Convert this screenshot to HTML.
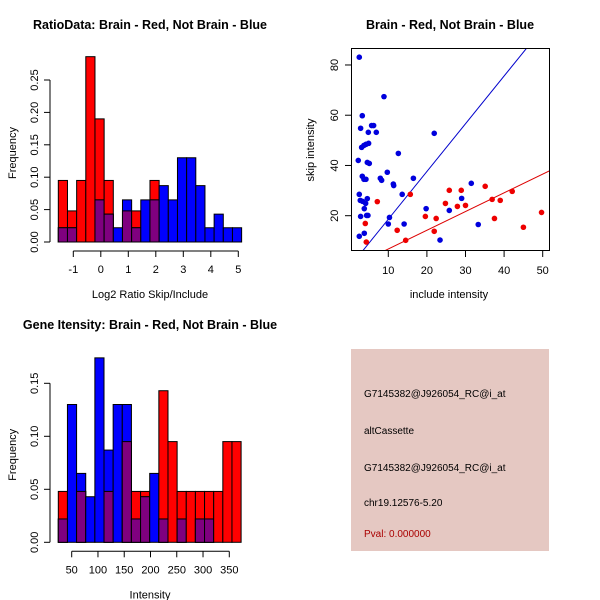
<!DOCTYPE html>
<html><head><meta charset="utf-8"><style>
body{margin:0;background:#fff;}
svg{display:block;font-family:"Liberation Sans",sans-serif;}
</style></head><body>
<svg id="c" width="600" height="600" xmlns="http://www.w3.org/2000/svg"></svg>
<script>
// ----- Data: ratio histogram -----
const ratioRed = [0.095,0.048,0.095,0.286,0.19,0.095,0,0.048,0.048,0,0.095,0,0,0,0,0,0,0,0,0];
const ratioBlue = [0.022,0.022,0,0,0.065,0.043,0.022,0.065,0.022,0.065,0.065,0.087,0.065,0.13,0.13,0.087,0.022,0.043,0.022,0.022];
const ratioStart = -1.545, ratioBinW = 0.3333;
const ratioXTicks = [-1,0,1,2,3,4,5];
const ratioYTicks = [0,0.05,0.10,0.15,0.20,0.25];
const ratioYLabels = ["0.00","0.05","0.10","0.15","0.20","0.25"];
// ----- Data: gene intensity histogram -----
const geneRed = [0.048,0,0.048,0,0,0.048,0,0.095,0.048,0.048,0,0.143,0.095,0.048,0.048,0.048,0.048,0.048,0.095,0.095];
const geneBlue = [0.022,0.13,0.065,0.043,0.174,0.087,0.13,0.13,0.022,0.043,0.065,0.022,0,0.022,0,0.022,0.022,0,0,0];
const geneStart = 24.5, geneBinW = 17.4;
const geneXTicks = [50,100,150,200,250,300,350];
const geneYTicks = [0,0.05,0.10,0.15];
const geneYLabels = ["0.00","0.05","0.10","0.15"];
// ----- Data: scatter -----
const blueX = [2.48,8.88,5.68,6.2,2.83,6.89,4.82,3.26,3.09,3.69,4.21,4.9,2.22,4.56,5.08,12.6,21.9,3.26,3.69,4.21,7.93,8.27,9.74,11.3,11.4,16.5,13.6,2.48,2.74,3.35,4.56,4.13,3.78,2.83,4.38,4.73,10.3,10.0,19.8,23.4,25.8,29.0,31.5,33.3,14.1,2.48,3.78];
const blueY = [83.1,67.4,55.9,55.9,54.8,53.2,53.2,59.8,47.2,48.0,48.4,48.8,42.0,41.2,40.8,44.8,52.8,35.7,34.5,34.5,34.9,34.1,37.3,32.6,32.0,34.9,28.5,28.5,26.1,25.7,26.8,24.9,22.8,19.7,20.1,20.1,19.3,16.7,22.8,10.3,22.1,26.9,32.9,16.5,16.7,11.8,13.0];
const redX = [7.15,15.7,4.04,4.3,12.3,14.5,19.6,22.4,21.9,24.8,25.8,27.9,28.9,30.0,35.1,36.9,39.0,42.1,37.5,45.0,49.7];
const redY = [25.6,28.5,16.9,9.5,14.2,10.2,19.7,18.9,13.8,24.9,30.1,23.7,30.1,24.1,31.7,26.5,26.1,29.7,18.9,15.4,21.3];
const blueLine = [1.9,-0.4];  // slope, intercept
const redLine = [0.745,-0.7];
const scXTicks = [10,20,30,40,50];
const scYTicks = [20,40,60,80];

const svg = document.getElementById('c');
const NS = 'http://www.w3.org/2000/svg';
function mk(tag, attrs, parent){const e=document.createElementNS(NS,tag);for(const k in attrs)e.setAttribute(k,attrs[k]);(parent||svg).appendChild(e);return e;}
function txt(s, x, y, attrs, parent){const e=mk('text',Object.assign({x:x,y:y},attrs),parent);e.textContent=s;return e;}

function hist(name, red, blue, start, bw, xTicks, yTicks, yLabels, sx, sy, title, titleX, titleY, xlab){
  const g = mk('g',{});
  
  
  for(let i=0;i<red.length;i++){
    const x0=sx(start+i*bw), x1=sx(start+(i+1)*bw);
    const r=red[i], b=blue[i], m=Math.min(r,b);
    if(r>0){const e=mk('rect',{x:x0,y:sy(r),width:x1-x0,height:sy(0)-sy(r),fill:'#ff0000',stroke:'#000','stroke-width':1},g);
      
      }
    if(b>0){const e=mk('rect',{x:x0,y:sy(b),width:x1-x0,height:sy(0)-sy(b),fill:'#0000ff',stroke:'#000','stroke-width':1},g);
      
      }
    if(m>0){const e=mk('rect',{x:x0,y:sy(m),width:x1-x0,height:sy(0)-sy(m),fill:'#7f007f',stroke:'#000','stroke-width':1},g);
      
      }
  }
  const y0=sy(yTicks[0]), y1=sy(yTicks[yTicks.length-1]);
  mk('line',{x1:50,y1:y0,x2:50,y2:y1,stroke:'#000'},g);
  yTicks.forEach((t,i)=>{const y=sy(t);mk('line',{x1:44,y1:y,x2:50,y2:y,stroke:'#000'},g);
    const e=txt(yLabels[i],38,y,{'font-size':11,'text-anchor':'middle',transform:`rotate(-90 38 ${y})`},g);
    
    });
  const ay=sy(0)+9;
  mk('line',{x1:sx(xTicks[0]),y1:ay,x2:sx(xTicks[xTicks.length-1]),y2:ay,stroke:'#000'},g);
  xTicks.forEach(t=>{const x=sx(t);mk('line',{x1:x,y1:ay,x2:x,y2:ay+6,stroke:'#000'},g);
    const e=txt(String(t),x,ay+22,{'font-size':11,'text-anchor':'middle'},g);
    
    });
  const xl=txt(xlab,150,sy(0)+56,{'font-size':11,'text-anchor':'middle'},g);
  
  
  const cy=(sy(0)+sy(yTicks[yTicks.length-1]))/2-8;
  const yl=txt('Frequency',16,cy,{'font-size':11,'text-anchor':'middle',transform:`rotate(-90 16 ${cy})`},g);
  
  
  const tt=txt(title,titleX,titleY,{'font-size':12.5,'font-weight':'bold','text-anchor':'middle'},g);
  
  
}
hist('ratio-histogram', ratioRed, ratioBlue, ratioStart, ratioBinW, ratioXTicks, ratioYTicks, ratioYLabels,
  v=>73.3+(v+1)*27.5, v=>242-v*(162/0.25), 'RatioData: Brain - Red, Not Brain - Blue',150,29,'Log2 Ratio Skip/Include');
hist('gene-intensity-histogram', geneRed, geneBlue, geneStart, geneBinW, geneXTicks, geneYTicks, geneYLabels,
  v=>71.7+(v-50)*0.5253, v=>542.3-v*(159/0.15), 'Gene Itensity: Brain - Red, Not Brain - Blue',150,329,'Intensity');

// scatter
const sg = mk('g',{});


const SX=v=>388.3+(v-10)*3.86, SY=v=>215.7-(v-20)*2.512;
const cp=mk('clipPath',{id:'clp'},sg);
mk('rect',{x:352,y:49,width:197,height:201},cp);
[[blueLine,'#0000cc'],[redLine,'#dd0000']].forEach(([L,c])=>{
  const e=mk('line',{x1:SX(0),y1:SY(L[1]),x2:SX(60),y2:SY(L[0]*60+L[1]),stroke:c,'stroke-width':1,'clip-path':'url(#clp)'},sg);
  
  
});
blueX.forEach((x,i)=>{const e=mk('circle',{cx:SX(x),cy:SY(blueY[i]),r:2.8,fill:'#0000dd'},sg);
  
  });
redX.forEach((x,i)=>{const e=mk('circle',{cx:SX(x),cy:SY(redY[i]),r:2.8,fill:'#ee0000'},sg);
  
  });
mk('rect',{x:351.5,y:48.5,width:198,height:202,fill:'none',stroke:'#000'},sg);
scXTicks.forEach(t=>{const x=SX(t);mk('line',{x1:x,y1:251,x2:x,y2:257,stroke:'#000'},sg);
  const e=txt(String(t),x,274,{'font-size':11,'text-anchor':'middle'},sg);
  
  });
scYTicks.forEach(t=>{const y=SY(t);mk('line',{x1:345,y1:y,x2:351,y2:y,stroke:'#000'},sg);
  const e=txt(String(t),338,y,{'font-size':11,'text-anchor':'middle',transform:`rotate(-90 338 ${y})`},sg);
  
  });
let e1=txt('include intensity',449,298,{'font-size':11,'text-anchor':'middle'},sg);


let e2=txt('skip intensity',314,150,{'font-size':11,'text-anchor':'middle',transform:'rotate(-90 314 150)'},sg);


let e3=txt('Brain - Red, Not Brain - Blue',450,29,{'font-size':12.5,'font-weight':'bold','text-anchor':'middle'},sg);



// info panel
const ig=mk('g',{});


mk('rect',{x:351,y:349,width:198,height:202,fill:'#e5c8c2'},ig);
[['G7145382@J926054_RC@i_at',397,'#000'],['altCassette',434,'#000'],['G7145382@J926054_RC@i_at',471,'#000'],['chr19.12576-5.20',506,'#000'],['Pval: 0.000000',537,'#aa0000']].forEach(([s,y,c])=>{
  const e=txt(s,364,y,{'font-size':10,fill:c},ig);
  
  
});
</script>
</body></html>
